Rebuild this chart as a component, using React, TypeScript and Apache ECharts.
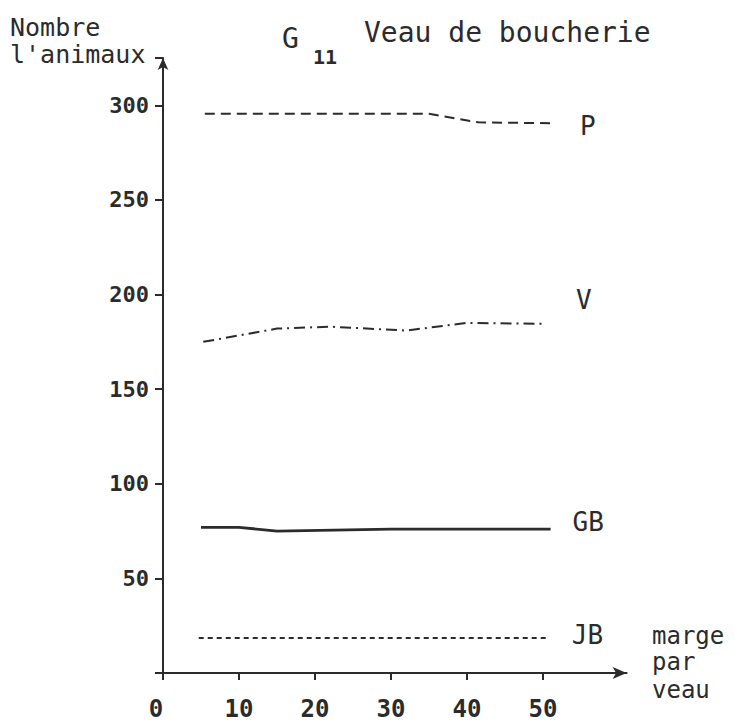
import React, { useEffect, useRef } from "react";
import * as echarts from "echarts";

// Axis ticks
const xTicks = [0, 10, 20, 30, 40, 50];
const yTicks = [50, 100, 150, 200, 250, 300];

// Series (x = marge par veau, y = nombre d'animaux)
const pX = [5.5, 35, 41.5, 51.3];
const pY = [295.5, 295.5, 291, 290.5];
const vX = [5.3, 15, 22, 32, 40, 50.4];
const vY = [175, 182, 183, 181, 185, 184.5];
const gbX = [5, 10, 15, 30, 51];
const gbY = [77, 77, 75, 76, 76];
const jbX = [4.7, 50.5];
const jbY = [18.5, 18.5];

const INK = "#2b2b2b";
const FONT = "DejaVu Sans Mono";
const UNIT_X = 7.6; // px per unit of x, shared by both grids

const zip = (xs: number[], ys: number[]) => xs.map((x, i) => [x, ys[i]]);

export default function App() {
  const ref = useRef<HTMLDivElement>(null);
  useEffect(() => {
    if (!ref.current) return;
    const chart = echarts.init(ref.current, null, { renderer: "svg" });
    const mk = (
      name: string,
      data: number[][],
      type: any,
      width: number,
      offset: number[]
    ) => ({
      name,
      type: "line",
      data,
      showSymbol: false,
      symbol: "none",
      silent: true,
      lineStyle: { color: INK, width, type },
      endLabel: {
        show: true,
        formatter: name,
        distance: 0,
        offset,
        color: INK,
        fontFamily: FONT,
        fontSize: 26,
      },
    });
    const xMax = 61;
    const tickMax = xTicks[xTicks.length - 1];
    chart.setOption({
      animation: false,
      backgroundColor: "#ffffff",
      grid: [
        { left: 163, top: 58, width: xMax * UNIT_X, height: 615, containLabel: false },
        { left: 163, top: 58, width: tickMax * UNIT_X, height: 615, containLabel: false },
      ],
      xAxis: [
        {
          type: "value",
          gridIndex: 0,
          min: 0,
          max: xMax,
          interval: 10,
          splitLine: { show: false },
          axisLine: {
            show: true,
            onZero: false,
            symbol: ["none", "arrow"],
            symbolSize: [9, 14],
            lineStyle: { color: INK, width: 2 },
          },
          axisTick: { show: false },
          axisLabel: {
            show: true,
            customValues: xTicks,
            margin: 24,
            color: INK,
            fontFamily: FONT,
            fontWeight: "bold",
            fontSize: 24,
            formatter: (v: number) => (v === 0 ? "{zero|0}" : String(v)),
            rich: {
              zero: {
                padding: [0, 14, 0, 0],
                color: INK,
                fontFamily: FONT,
                fontWeight: "bold",
                fontSize: 24,
              },
            },
          },
        },
        {
          type: "value",
          gridIndex: 1,
          min: 0,
          max: tickMax,
          interval: 10,
          splitLine: { show: false },
          axisLine: { show: false, onZero: false },
          axisTick: { show: true, length: 7, lineStyle: { color: INK, width: 2 } },
          axisLabel: { show: false },
        },
      ],
      yAxis: [
        {
          type: "value",
          gridIndex: 0,
          min: 0,
          max: 325,
          interval: 50,
          splitLine: { show: false },
          axisLine: {
            show: true,
            onZero: false,
            symbol: ["none", "arrow"],
            symbolSize: [8, 12],
            lineStyle: { color: INK, width: 2 },
          },
          axisTick: { show: true, length: 8, lineStyle: { color: INK, width: 2 } },
          axisLabel: {
            show: true,
            customValues: yTicks,
            margin: 14,
            color: INK,
            fontFamily: FONT,
            fontWeight: "bold",
            fontSize: 22,
          },
        },
        { type: "value", gridIndex: 1, min: 0, max: 325, show: false },
      ],
      series: [
        mk("P", zip(pX, pY), [10, 6], 2, [27, 3]),
        mk("V", zip(vX, vY), [11, 5, 2, 5], 2, [30, -24]),
        mk("GB", zip(gbX, gbY), "solid", 2.8, [22, -7]),
        mk("JB", zip(jbX, jbY), [5, 4], 1.8, [25, -3]),
      ],
      graphic: [
        {
          type: "text",
          left: 10,
          top: 14,
          style: { text: "Nombre", fill: INK, font: `25px ${FONT}`, lineHeight: 26 },
        },
        {
          type: "text",
          left: 10,
          top: 41,
          style: { text: "l'animaux", fill: INK, font: `25px ${FONT}`, lineHeight: 26 },
        },
        {
          type: "text",
          left: 282,
          top: 24,
          style: { text: "G", fill: INK, font: `28px ${FONT}` },
        },
        {
          type: "text",
          left: 313,
          top: 47,
          style: { text: "11", fill: INK, font: `bold 20px ${FONT}` },
        },
        {
          type: "text",
          left: 364,
          top: 18,
          style: { text: "Veau de boucherie", fill: INK, font: `28px ${FONT}` },
        },
        {
          type: "text",
          left: 652,
          top: 623,
          style: { text: "marge", fill: INK, font: `24px ${FONT}`, lineHeight: 25 },
        },
        {
          type: "text",
          left: 652,
          top: 649,
          style: { text: "par", fill: INK, font: `24px ${FONT}`, lineHeight: 25 },
        },
        {
          type: "text",
          left: 652,
          top: 677,
          style: { text: "veau", fill: INK, font: `24px ${FONT}`, lineHeight: 25 },
        },
      ],
    });
    return () => chart.dispose();
  }, []);
  return (
    <div
      ref={ref}
      style={{ position: "fixed", left: 0, top: 0, width: 754, height: 723 }}
    />
  );
}
